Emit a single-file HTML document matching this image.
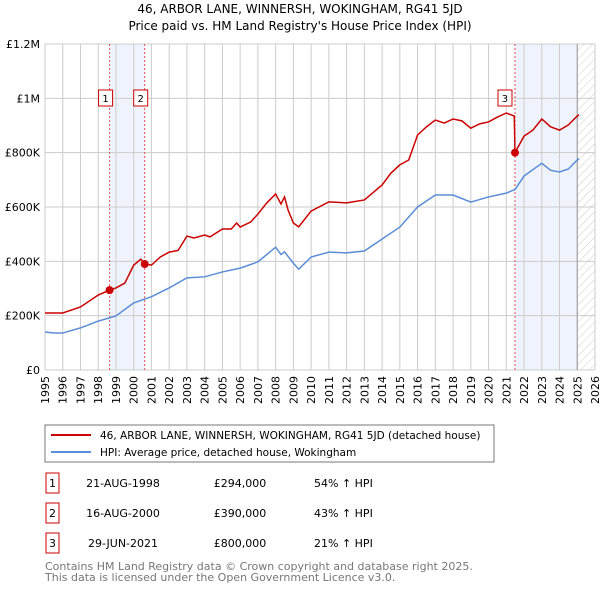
<!DOCTYPE html>
<html><head><meta charset="utf-8"><style>
body{margin:0;background:#fff;font-family:"Liberation Sans","DejaVu Sans",sans-serif;}
#wrap{position:relative;width:600px;height:590px;overflow:hidden;}
svg text{font-family:"DejaVu Sans","Liberation Sans",sans-serif;}
</style></head><body><div id="wrap">
<svg id="chart" width="600" height="590">
<defs><pattern id="hatch" width="6" height="6" patternUnits="userSpaceOnUse" patternTransform="rotate(45)"><line x1="0" y1="0" x2="0" y2="6" stroke="#ccc" stroke-width="1"/></pattern></defs>
<text x="300" y="13" text-anchor="middle" font-size="12">46, ARBOR LANE, WINNERSH, WOKINGHAM, RG41 5JD</text>
<text x="300" y="30" text-anchor="middle" font-size="12">Price paid vs. HM Land Registry's House Price Index (HPI)</text>
<g id="grid"></g><g id="marks"></g><g id="axes"></g>
<rect x="45" y="425" width="449" height="37" fill="#fff" stroke="#777"/>
<line x1="51" y1="435" x2="91" y2="435" stroke="#cc0000" stroke-width="2"/>
<text x="100" y="439" font-size="10.5">46, ARBOR LANE, WINNERSH, WOKINGHAM, RG41 5JD (detached house)</text>
<line x1="51" y1="452" x2="91" y2="452" stroke="#5b8dd6" stroke-width="2"/>
<text x="100" y="456" font-size="10.5">HPI: Average price, detached house, Wokingham</text>
<g id="table"></g>
<text x="45" y="570" font-size="11" fill="#777">Contains HM Land Registry data © Crown copyright and database right 2025.</text>
<text x="45" y="581" font-size="11" fill="#777">This data is licensed under the Open Government Licence v3.0.</text>
</svg></div>
<script>
const hpiYears=[1995,1995.5,1996,1997,1998,1999,2000,2001,2002,2003,2004,2005,2006,2007,2008,2008.3,2008.5,2009,2009.3,2010,2011,2012,2013,2014,2015,2016,2017,2018,2019,2020,2021,2021.5,2022,2023,2023.5,2024,2024.5,2025,2025.1];
const hpiValues=[140,136,136,155,180,199,247,270,302,339,343,361,375,398,452,425,435,393,371,416,434,431,438,482,526,600,644,644,618,637,651,665,714,761,735,729,740,773,778];
const priceYears=[1995,1996,1997,1998,1998.64,1999,1999.5,2000,2000.4,2000.62,2001,2001.5,2002,2002.5,2003,2003.4,2004,2004.3,2005,2005.5,2005.8,2006,2006.6,2007,2007.5,2008,2008.3,2008.5,2008.7,2009,2009.3,2010,2011,2012,2013,2014,2014.5,2015,2015.5,2016,2016.5,2017,2017.5,2018,2018.5,2019,2019.5,2020,2020.5,2021,2021.45,2021.49,2022,2022.5,2023,2023.5,2024,2024.5,2025,2025.1];
const priceValues=[210,210,232,276,294,302,320,386,408,390,386,416,434,440,493,486,497,490,519,519,541,526,545,574,615,648,611,637,589,541,527,585,619,615,626,681,725,755,773,865,895,920,909,924,917,890,906,913,931,946,935,800,861,883,924,895,883,902,935,940];
const saleLabels=["1","2","3"];
const saleYears=[1998.64,2000.62,2021.49];
const saleValues=[294,390,800];
const saleDates=["21-AUG-1998","16-AUG-2000","29-JUN-2021"];
const salePrices=["£294,000","£390,000","£800,000"];
const saleHpi=["54% ↑ HPI","43% ↑ HPI","21% ↑ HPI"];
const yTicks=[0,200,400,600,800,1000,1200];
const yTickLabels=["£0","£200K","£400K","£600K","£800K","£1M","£1.2M"];
const xTicks=[1995,1996,1997,1998,1999,2000,2001,2002,2003,2004,2005,2006,2007,2008,2009,2010,2011,2012,2013,2014,2015,2016,2017,2018,2019,2020,2021,2022,2023,2024,2025,2026];
const NS="http://www.w3.org/2000/svg";
const X0=45,X1=595,Y0=370,Y1=44;
const xs=y=>X0+(y-1995)/(2026-1995)*(X1-X0);
const ys=v=>Y0-v/1200*(Y0-Y1);
function mk(t,a,p){const e=document.createElementNS(NS,t);for(const k in a)e.setAttribute(k,a[k]);p.appendChild(e);return e;}
const grid=document.getElementById('grid'),marks=document.getElementById('marks'),axes=document.getElementById('axes'),table=document.getElementById('table');
let b=mk('rect',{x:xs(saleYears[0]),y:Y1,width:xs(saleYears[1])-xs(saleYears[0]),height:Y0-Y1,fill:'#eef3fc'},grid);


b=mk('rect',{x:xs(saleYears[2]),y:Y1,width:xs(2025)-xs(saleYears[2]),height:Y0-Y1,fill:'#eef3fc'},grid);


b=mk('rect',{x:xs(2025),y:Y1,width:X1-xs(2025),height:Y0-Y1,fill:'url(#hatch)'},grid);


xTicks.forEach(t=>{const l=mk('line',{x1:xs(t),x2:xs(t),y1:Y1,y2:Y0,stroke:'#ccc'},grid);


const x=xs(t),tx=mk('text',{x:0,y:0,'font-size':11,'text-anchor':'end',transform:`translate(${x+4},${Y0+6}) rotate(-90)`},axes);tx.textContent=t;

});
yTicks.forEach((t,i)=>{const l=mk('line',{x1:X0,x2:X1,y1:ys(t),y2:ys(t),stroke:'#ccc'},grid);


const tx=mk('text',{x:40,y:ys(t)+4,'font-size':11,'text-anchor':'end'},axes);tx.textContent=yTickLabels[i];

});
let l=mk('line',{x1:xs(2025),x2:xs(2025),y1:Y1,y2:Y0,stroke:'#999'},grid);


saleYears.forEach((y,i)=>{const d=mk('line',{x1:xs(y),x2:xs(y),y1:Y1,y2:Y0,stroke:'#e05050','stroke-dasharray':'2,2'},grid);

});
const hp=mk('polyline',{points:hpiYears.map((y,i)=>xs(y)+','+ys(hpiValues[i])).join(' '),fill:'none',stroke:'#5b8dd6','stroke-width':1.5},marks);


const pp=mk('polyline',{points:priceYears.map((y,i)=>xs(y)+','+ys(priceValues[i])).join(' '),fill:'none',stroke:'#cc0000','stroke-width':1.5},marks);


saleYears.forEach((y,i)=>{const c=mk('circle',{cx:xs(y),cy:ys(saleValues[i]),r:4,fill:'#cc0000'},marks);


const r=mk('rect',{x:xs(y)-17+(i<2?6:0),y:90,width:14,height:16,fill:'#fff',stroke:'#cc0000'},marks);


const t=mk('text',{x:xs(y)-10+(i<2?6:0),y:102,'font-size':10,'text-anchor':'middle'},marks);t.textContent=saleLabels[i];


const ry=483+i*30;
const tb=mk('rect',{x:46,y:ry-10,width:13,height:20,fill:'#fff',stroke:'#cc0000'},table);


const cols=[[52.5,saleLabels[i],'middle'],[123,saleDates[i],'middle'],[240,salePrices[i],'middle'],[314,saleHpi[i],'start']];
cols.forEach(c2=>{const tt=mk('text',{x:c2[0],y:ry+4,'font-size':11,'text-anchor':c2[2]},table);tt.textContent=c2[1];

});});
</script></body></html>
